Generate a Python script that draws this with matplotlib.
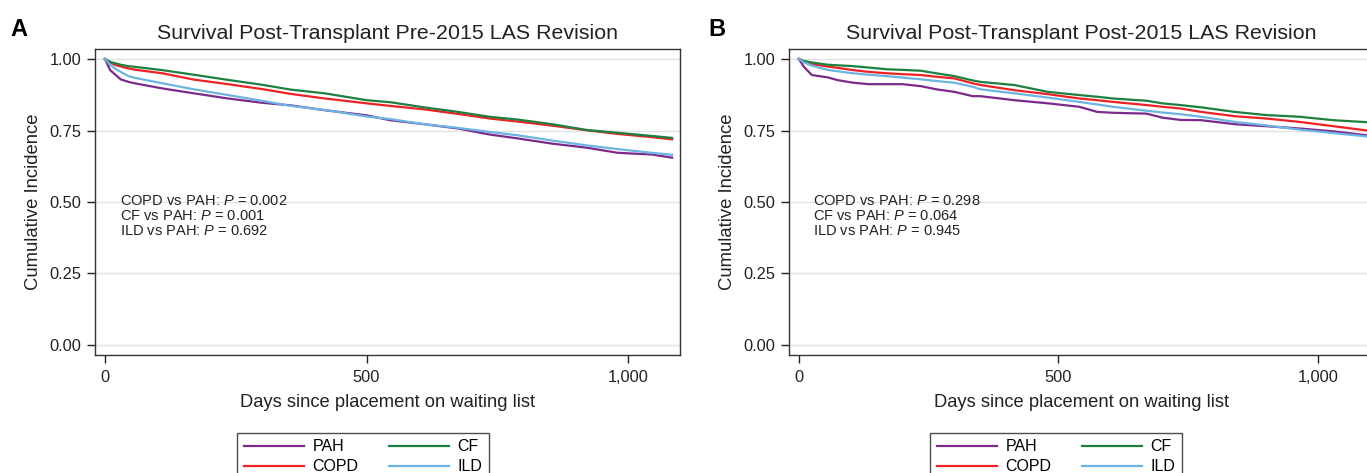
import matplotlib
matplotlib.use("Agg")
import matplotlib.pyplot as plt
from matplotlib.lines import Line2D

plt.rcParams['font.family'] = ['Liberation Sans', 'DejaVu Sans']
plt.rcParams['mathtext.fontset'] = 'custom'
plt.rcParams['mathtext.rm'] = 'Liberation Sans'
plt.rcParams['mathtext.it'] = 'Liberation Sans:italic'

# Panel A: pre-2015 LAS revision
days_a = [0, 10, 20, 30, 45, 60, 110, 170, 235, 300, 355, 420, 500, 545, 610, 675, 735, 790, 855, 920, 980, 1045, 1084]
pah_a = [1.0, 0.961, 0.945, 0.929, 0.920, 0.914, 0.897, 0.880, 0.862, 0.847, 0.838, 0.821, 0.803, 0.786, 0.772, 0.757, 0.736, 0.722, 0.704, 0.690, 0.672, 0.666, 0.655]
ild_a = [1.0, 0.980, 0.966, 0.955, 0.940, 0.933, 0.915, 0.894, 0.874, 0.854, 0.836, 0.822, 0.799, 0.790, 0.772, 0.759, 0.745, 0.733, 0.715, 0.698, 0.685, 0.672, 0.665]
copd_a = [1.0, 0.988, 0.979, 0.974, 0.967, 0.962, 0.950, 0.928, 0.912, 0.895, 0.878, 0.862, 0.845, 0.836, 0.824, 0.808, 0.792, 0.781, 0.767, 0.751, 0.738, 0.727, 0.719]
cf_a = [1.0, 0.990, 0.985, 0.980, 0.975, 0.972, 0.961, 0.945, 0.927, 0.910, 0.893, 0.880, 0.856, 0.849, 0.831, 0.815, 0.798, 0.788, 0.772, 0.752, 0.742, 0.731, 0.724]

# Panel B: post-2015 LAS revision
days_b = [0, 10, 25, 55, 75, 105, 135, 170, 200, 235, 265, 300, 335, 350, 415, 480, 540, 575, 605, 670, 700, 735, 775, 840, 900, 965, 1030, 1095]
pah_b = [1.0, 0.972, 0.944, 0.936, 0.926, 0.917, 0.912, 0.912, 0.912, 0.905, 0.894, 0.885, 0.870, 0.870, 0.856, 0.845, 0.833, 0.815, 0.812, 0.809, 0.795, 0.787, 0.786, 0.772, 0.765, 0.757, 0.747, 0.733]
ild_b = [1.0, 0.988, 0.977, 0.962, 0.957, 0.950, 0.945, 0.940, 0.935, 0.929, 0.923, 0.917, 0.903, 0.894, 0.880, 0.865, 0.850, 0.841, 0.833, 0.819, 0.813, 0.807, 0.798, 0.780, 0.768, 0.753, 0.741, 0.729]
copd_b = [1.0, 0.990, 0.982, 0.974, 0.969, 0.961, 0.955, 0.950, 0.947, 0.944, 0.938, 0.932, 0.915, 0.909, 0.891, 0.877, 0.862, 0.856, 0.850, 0.839, 0.833, 0.827, 0.815, 0.800, 0.792, 0.780, 0.765, 0.750]
cf_b = [1.0, 0.993, 0.988, 0.980, 0.978, 0.975, 0.970, 0.964, 0.962, 0.959, 0.950, 0.940, 0.925, 0.920, 0.909, 0.885, 0.874, 0.868, 0.862, 0.854, 0.845, 0.839, 0.831, 0.815, 0.804, 0.798, 0.786, 0.779]

labels = ['PAH', 'COPD', 'CF', 'ILD']
colors = ['#7b2a8b', '#ee2224', '#1d8040', '#6cb4e4']
pvals_a = ['0.002', '0.001', '0.692']
pvals_b = ['0.298', '0.064', '0.945']
comparisons = ['COPD vs PAH', 'CF vs PAH', 'ILD vs PAH']

fig = plt.figure(figsize=(13.67, 4.73), dpi=100)
ax_a = fig.add_axes([95 / 1367, 1 - 355 / 473, 585 / 1367, 306 / 473])
ax_b = fig.add_axes([789 / 1367, 1 - 355 / 473, 585 / 1367, 306 / 473])


def draw_panel(ax, days, series, title, pvals, xmax):
    for vals, c in zip(series, colors):
        ax.plot(days, vals, color=c, lw=1.6, zorder=3)
    ax.set_xlim(-19, xmax)
    ax.set_ylim(-0.035, 1.035)
    ax.set_yticks([0, 0.25, 0.5, 0.75, 1.0])
    ax.set_yticklabels(['0.00', '0.25', '0.50', '0.75', '1.00'])
    ax.set_xticks([0, 500, 1000])
    ax.set_xticklabels(['0', '500', '1,000'])
    ax.tick_params(labelsize=11.8, length=6, width=1, colors='#222222', pad=4)
    ax.tick_params(axis='x', pad=5)
    ax.grid(axis='y', color='#e2e2e2', lw=1)
    ax.set_axisbelow(True)
    for s in ax.spines.values():
        s.set_color('#333333')
        s.set_linewidth(1)
    ax.set_title(title, fontsize=15.4, pad=7, color='#222222')
    ax.set_ylabel('Cumulative Incidence', fontsize=13.3, color='#222222', labelpad=5)
    ax.set_xlabel('Days since placement on waiting list', fontsize=13.2, color='#222222', labelpad=6)
    for i, (cmp, p) in enumerate(zip(comparisons, pvals)):
        ax.text(28, 0.503 - i * 0.052, cmp + ': $P$ = ' + p, fontsize=10.5,
                va='center', ha='left', color='#222222')


draw_panel(ax_a, days_a, [pah_a, copd_a, cf_a, ild_a],
           'Survival Post-Transplant Pre-2015 LAS Revision', pvals_a, 1099)
draw_panel(ax_b, days_b, [pah_b, copd_b, cf_b, ild_b],
           'Survival Post-Transplant Post-2015 LAS Revision', pvals_b, 1108)

fig.text(10 / 1367, 1 - 30 / 473, 'A', fontsize=17, fontweight='bold', va='center')
fig.text(708 / 1367, 1 - 30 / 473, 'B', fontsize=17, fontweight='bold', va='center')

handles = [Line2D([], [], color=c, lw=1.6) for c in colors]
for cx in [363 / 1367, 1056 / 1367]:
    leg = fig.legend(handles, labels, ncol=2, loc='upper center',
                     bbox_to_anchor=(cx, 1 - 433 / 473), fontsize=11.5,
                     frameon=True, fancybox=False, edgecolor='#222222',
                     handlelength=3.8, columnspacing=1.9, labelspacing=0.3,
                     borderpad=0.4, handletextpad=0.5, borderaxespad=0)
    leg.get_frame().set_linewidth(1)

fig.savefig('out.png', dpi=100)
